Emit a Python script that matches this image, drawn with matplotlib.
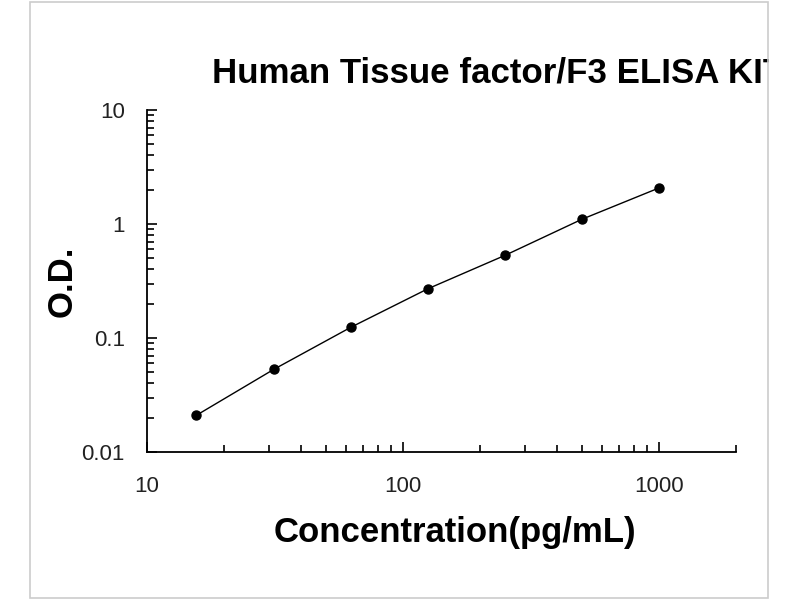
import matplotlib
matplotlib.use("Agg")
import matplotlib.pyplot as plt
from matplotlib.patches import Rectangle
from matplotlib.ticker import LogLocator, FixedLocator, FixedFormatter, NullFormatter

plt.rcParams['font.family'] = ['Liberation Sans', 'DejaVu Sans']

# standard curve
conc = [15.6, 31.25, 62.5, 125, 250, 500, 1000]
od = [0.021, 0.053, 0.124, 0.27, 0.53, 1.1, 2.07]

xticks = [10, 100, 1000]
xtick_labels = ["10", "100", "1000"]
yticks = [0.01, 0.1, 1, 10]
ytick_labels = ["0.01", "0.1", "1", "10"]

fig = plt.figure(figsize=(8, 6), dpi=100)

ax = fig.add_axes([147 / 800, 1 - 452 / 600, (736 - 147) / 800, (452 - 110) / 600])
ax.plot(conc, od, color="black", linewidth=1.0, marker="o", markersize=6.5)

ax.set_xscale("log")
ax.set_yscale("log")
ax.set_xlim(10, 2000)
ax.set_ylim(0.01, 10)

ax.xaxis.set_major_locator(FixedLocator(xticks))
ax.xaxis.set_major_formatter(FixedFormatter(xtick_labels))
ax.xaxis.set_minor_locator(LogLocator(base=10, subs=range(2, 10)))
ax.xaxis.set_minor_formatter(NullFormatter())
ax.yaxis.set_major_locator(FixedLocator(yticks))
ax.yaxis.set_major_formatter(FixedFormatter(ytick_labels))
ax.yaxis.set_minor_locator(LogLocator(base=10, subs=range(2, 10)))
ax.yaxis.set_minor_formatter(NullFormatter())

ax.tick_params(which="major", direction="in", length=7, width=1.2, color="black")
ax.tick_params(which="minor", direction="in", length=5, width=1.2, color="black")
ax.tick_params(axis="x", which="major", labelsize=16, pad=17, labelcolor="#222222")
ax.tick_params(axis="y", which="major", labelsize=16, pad=16, labelcolor="#222222")

for s in ["top", "right"]:
    ax.spines[s].set_visible(False)
for s in ["left", "bottom"]:
    ax.spines[s].set_linewidth(1.3)

ax.set_xlabel("Concentration(pg/mL)", fontsize=25, fontweight="bold", labelpad=14, x=0.522)
ax.set_ylabel("O.D.", fontsize=25, fontweight="bold", labelpad=2)

fig.text(212 / 800, 1 - 73 / 600, "Human Tissue factor/F3 ELISA KIT",
         fontsize=25.1, fontweight="bold", va="center", ha="left")
# the title runs past the right edge of the frame in the original
fig.patches.append(Rectangle((769 / 800, 0), 31 / 800, 1, transform=fig.transFigure,
                             facecolor="white", edgecolor="none", zorder=5))
fig.patches.append(Rectangle((30 / 800, 2 / 600), 738 / 800, 596 / 600,
                             transform=fig.transFigure, fill=False,
                             edgecolor="#cccccc", linewidth=1.2, zorder=10))

fig.savefig("out.png", dpi=100)
